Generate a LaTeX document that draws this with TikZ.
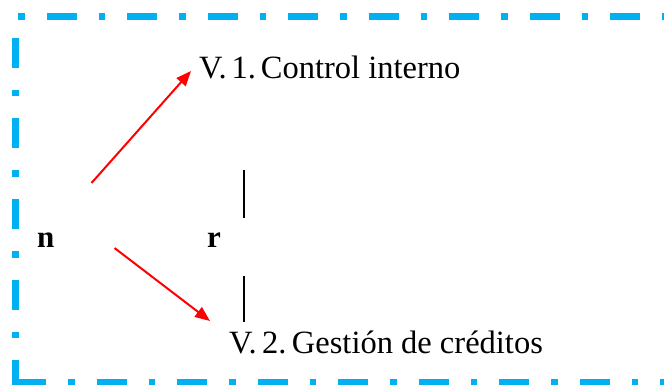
\documentclass[tikz,border=0pt]{standalone}
\usepackage{fontspec}
\setmainfont{Liberation Serif}
\newfontfamily\tnr{Liberation Serif}
\usetikzlibrary{arrows.meta}
\definecolor{framecol}{RGB}{0,176,240}
\definecolor{arrowred}{RGB}{255,0,0}
\tikzset{
  framepart/.style={draw=framecol, line width=7pt,
    dash pattern=on 30pt off 22pt on 6.5pt off 22pt},
  label/.style={inner sep=0pt, font=\tnr\fontsize{32.5}{32.5}\selectfont},
  boldlabel/.style={inner sep=0pt, font=\tnr\bfseries\fontsize{31}{31}\selectfont},
  redarrow/.style={draw=arrowred, line width=2pt,
    -{Triangle[length=15pt,width=12pt]}},
  barline/.style={draw=black, line width=1.5pt}
}
\begin{document}
\begin{tikzpicture}[x=1pt,y=-1pt]
\useasboundingbox (0,0) rectangle (664,385);
\clip (0,0) rectangle (664,385);
% frame
\coordinate (tl) at (15,17);
\coordinate (tr) at (690,17);
\coordinate (bl0) at (15,385.5);
\coordinate (bl) at (16,382);
\coordinate (br) at (690,382);
\draw[framepart, dash phase=48.9pt] (tl) -- (tr);
\draw[framepart, dash phase=59.5pt] (tl) -- (bl0);
\draw[framepart, dash phase=0pt] (bl) -- (br);
% texts
\node[label, anchor=base west] (v1) at (199,78.5) {V.\hspace{5pt}1.\hspace{5pt}Control interno};
\node[label, anchor=base west] (v2) at (229,353.5) {V.\hspace{5.5pt}2.\hspace{5.5pt}Gestión de créditos};
\node[boldlabel, anchor=base west] (n) at (37,247.5) {n};
\node[boldlabel, anchor=base west] (r) at (207,247.5) {r};
% arrows
\coordinate (a1s) at (91.5,183);
\coordinate (a1e) at (191,71);
\coordinate (a2s) at (114.5,248);
\coordinate (a2e) at (210,321);
\draw[redarrow] (a1s) -- (a1e);
\draw[redarrow] (a2s) -- (a2e);
% vertical bars
\coordinate (b1t) at (244,170);
\coordinate (b1b) at (244,217.5);
\coordinate (b2t) at (244,276);
\coordinate (b2b) at (244,322);
\draw[barline] (b1t) -- (b1b);
\draw[barline] (b2t) -- (b2b);
\end{tikzpicture}
\end{document}
